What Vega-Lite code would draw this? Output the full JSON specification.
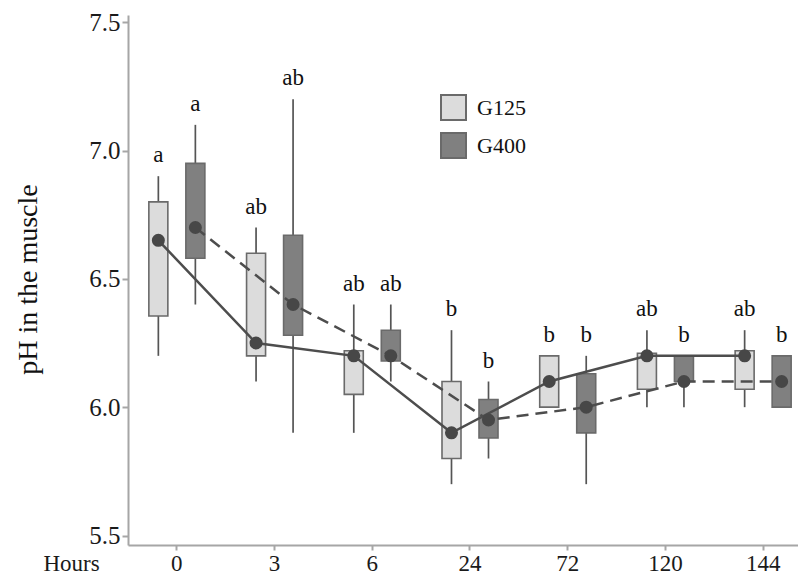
{
  "$schema": "https://vega.github.io/schema/vega-lite/v6.json",
  "width": 670,
  "height": 530,
  "autosize": {"type": "none"},
  "padding": {"left": 128, "top": 15, "right": 0, "bottom": 30},
  "background": "white",
  "config": {
    "view": {"stroke": null},
    "font": "Liberation Serif"
  },
  "data": {
    "values": [
      {"hour": "0", "group": "G125", "lo": 6.20, "q1": 6.355, "med": 6.65, "q3": 6.80, "hi": 6.90, "sig": "a"},
      {"hour": "0", "group": "G400", "lo": 6.40, "q1": 6.58, "med": 6.70, "q3": 6.95, "hi": 7.10, "sig": "a"},
      {"hour": "3", "group": "G125", "lo": 6.10, "q1": 6.20, "med": 6.25, "q3": 6.60, "hi": 6.70, "sig": "ab"},
      {"hour": "3", "group": "G400", "lo": 5.90, "q1": 6.28, "med": 6.40, "q3": 6.67, "hi": 7.20, "sig": "ab"},
      {"hour": "6", "group": "G125", "lo": 5.90, "q1": 6.05, "med": 6.20, "q3": 6.22, "hi": 6.40, "sig": "ab"},
      {"hour": "6", "group": "G400", "lo": 6.10, "q1": 6.18, "med": 6.20, "q3": 6.30, "hi": 6.40, "sig": "ab"},
      {"hour": "24", "group": "G125", "lo": 5.70, "q1": 5.80, "med": 5.90, "q3": 6.10, "hi": 6.30, "sig": "b"},
      {"hour": "24", "group": "G400", "lo": 5.80, "q1": 5.88, "med": 5.95, "q3": 6.03, "hi": 6.10, "sig": "b"},
      {"hour": "72", "group": "G125", "lo": 6.00, "q1": 6.00, "med": 6.10, "q3": 6.20, "hi": 6.20, "sig": "b"},
      {"hour": "72", "group": "G400", "lo": 5.70, "q1": 5.90, "med": 6.00, "q3": 6.13, "hi": 6.20, "sig": "b"},
      {"hour": "120", "group": "G125", "lo": 6.00, "q1": 6.07, "med": 6.20, "q3": 6.21, "hi": 6.30, "sig": "ab"},
      {"hour": "120", "group": "G400", "lo": 6.00, "q1": 6.10, "med": 6.10, "q3": 6.20, "hi": 6.20, "sig": "b"},
      {"hour": "144", "group": "G125", "lo": 6.00, "q1": 6.07, "med": 6.20, "q3": 6.22, "hi": 6.30, "sig": "ab"},
      {"hour": "144", "group": "G400", "lo": 6.00, "q1": 6.00, "med": 6.10, "q3": 6.20, "hi": 6.20, "sig": "b"}
    ]
  },
  "encoding": {
    "x": {
      "field": "hour",
      "type": "nominal",
      "sort": ["0", "3", "6", "24", "72", "120", "144"],
      "scale": {"range": [0, 684], "paddingInner": 0, "paddingOuter": 0},
      "axis": {
        "labelAngle": 0,
        "domainColor": "#a6a6a6",
        "domainWidth": 2,
        "tickColor": "#a6a6a6",
        "tickWidth": 2,
        "tickSize": 5,
        "labelPadding": 2,
        "labelFontSize": 23,
        "labelColor": "#1a1a1a",
        "title": "Hours",
        "titleX": -57,
        "titleY": 25,
        "titleAlign": "center",
        "titleBaseline": "alphabetic",
        "titleFontSize": 23,
        "titleFontWeight": "normal",
        "titleColor": "#1a1a1a"
      }
    },
    "xOffset": {
      "field": "group",
      "type": "nominal",
      "sort": ["G125", "G400"],
      "scale": {"paddingInner": 0, "paddingOuter": 0.32}
    }
  },
  "layer": [
    {
      "mark": {"type": "rule", "color": "#555555", "strokeWidth": 1.7},
      "encoding": {
        "y": {
          "field": "lo",
          "type": "quantitative",
          "scale": {"domain": [5.463, 7.528], "nice": false, "zero": false},
          "axis": {
            "values": [5.5, 6.0, 6.5, 7.0, 7.5],
            "format": ".1f",
            "grid": false,
            "domainColor": "#a6a6a6",
            "domainWidth": 2,
            "tickColor": "#a6a6a6",
            "tickWidth": 2,
            "tickSize": 6,
            "labelPadding": 2,
            "labelFontSize": 25,
            "labelColor": "#1a1a1a",
            "titleFontSize": 28,
            "titleFontWeight": "normal",
            "titleColor": "#111111",
            "titleX": -86,
            "titleY": 264
          },
          "title": "pH in the muscle"
        },
        "y2": {"field": "hi"}
      }
    },
    {
      "mark": {"type": "bar", "width": 19, "stroke": "#6a6a6a", "strokeWidth": 1.6},
      "encoding": {
        "y": {"field": "q1", "type": "quantitative"},
        "y2": {"field": "q3"},
        "fill": {
          "field": "group",
          "type": "nominal",
          "scale": {"domain": ["G125", "G400"], "range": ["#dcdcdc", "#808080"]},
          "legend": {
            "orient": "none",
            "legendX": 312,
            "legendY": 79,
            "title": null,
            "symbolType": "square",
            "symbolSize": 625,
            "symbolStrokeColor": "#6a6a6a",
            "symbolStrokeWidth": 2,
            "symbolOpacity": 1,
            "labelFontSize": 22,
            "labelColor": "#111111",
            "labelOffset": 10,
            "rowPadding": 5,
            "padding": 0
          }
        }
      }
    },
    {
      "transform": [{"filter": "datum.group === 'G125'"}],
      "mark": {"type": "line", "color": "#4d4d4d", "strokeWidth": 2.5},
      "encoding": {
        "y": {"field": "med", "type": "quantitative"}
      }
    },
    {
      "transform": [{"filter": "datum.group === 'G400'"}],
      "mark": {"type": "line", "color": "#4d4d4d", "strokeWidth": 2.5, "strokeDash": [12, 7]},
      "encoding": {
        "y": {"field": "med", "type": "quantitative"}
      }
    },
    {
      "mark": {"type": "point", "filled": true, "color": "#474747", "size": 170, "opacity": 1},
      "encoding": {
        "y": {"field": "med", "type": "quantitative"}
      }
    },
    {
      "mark": {"type": "text", "dy": -14, "baseline": "alphabetic", "fontSize": 23, "color": "#111111"},
      "encoding": {
        "y": {"field": "hi", "type": "quantitative"},
        "text": {"field": "sig"}
      }
    }
  ]
}
